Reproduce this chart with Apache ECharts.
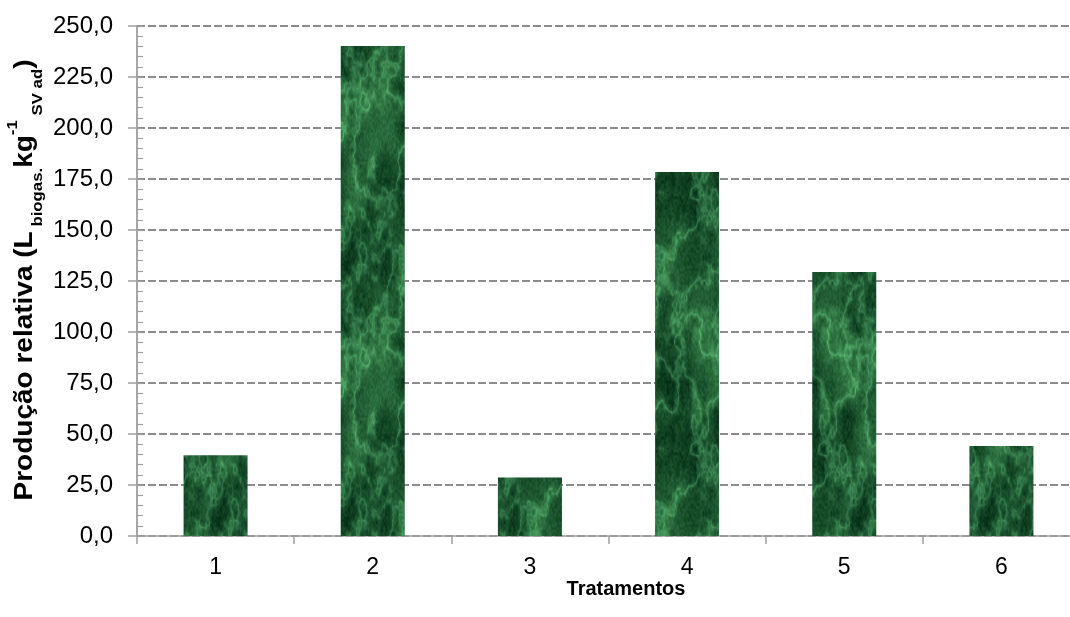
<!DOCTYPE html>
<html>
<head>
<meta charset="utf-8">
<title>Produção relativa por tratamento</title>
<script src="https://cdn.jsdelivr.net/npm/echarts@6/dist/echarts.min.js"></script>
<style>
  html, body { margin: 0; padding: 0; background: #ffffff; }
  #chart { width: 1070px; height: 617px; }
</style>
</head>
<body>
<div id="chart"></div>
<script>
// Treatments on the x axis and relative biogas production for each one
const categories = ['1', '2', '3', '4', '5', '6'];
const producao = [39.6, 240.2, 28.7, 178.4, 129.4, 44.1];

// Value axis range and steps
const yMin = 0;
const yMax = 250;
const yStep = 25;
const yMinorStep = 5;

const xTitle = 'Tratamentos';

// Green marble fill for the bars, built as a tileable noise texture
function buildMarbleTexture() {
  const W = 128, H = 256;
  const cv = document.createElement('canvas');
  cv.width = W; cv.height = H;
  const ctx = cv.getContext('2d');
  const img = ctx.createImageData(W, H);
  let s = 20240611;
  const rand = () => { s = (s * 1103515245 + 12345) & 0x7fffffff; return s / 0x7fffffff; };
  const lattice = (n) => { const g = []; for (let i = 0; i < n * n; i++) g.push(rand()); return { n, g }; };
  const sample = (L, u, v) => {
    const n = L.n, x = u * n, y = v * n;
    const x0 = Math.floor(x), y0 = Math.floor(y);
    const fx = x - x0, fy = y - y0;
    const sx = fx * fx * (3 - 2 * fx), sy = fy * fy * (3 - 2 * fy);
    const at = (a, b) => L.g[(((b % n) + n) % n) * n + (((a % n) + n) % n)];
    const a = at(x0, y0), b = at(x0 + 1, y0), c = at(x0, y0 + 1), d = at(x0 + 1, y0 + 1);
    return a + (b - a) * sx + (c - a) * sy + (a - b - c + d) * sx * sy;
  };
  const base = [lattice(4), lattice(8), lattice(16), lattice(32), lattice(64)];
  const vein = [lattice(6), lattice(12), lattice(24), lattice(48)];
  const speck = lattice(96);
  const fbm = (set, u, v) => {
    let sum = 0, amp = 0.5, tot = 0;
    for (const L of set) { sum += amp * sample(L, u, v); tot += amp; amp *= 0.55; }
    return sum / tot;
  };
  for (let y = 0; y < H; y++) {
    for (let x = 0; x < W; x++) {
      const u = x / W, v = y / H;
      let t = fbm(base, u, v);
      t = Math.min(1, Math.max(0, (t - 0.3) / 0.4));
      let r = 1 - Math.abs(2 * fbm(vein, u, v) - 1);
      r = Math.pow(r, 8);
      const grain = sample(speck, u, v) - 0.5;
      const R = 8 + 32 * t + 40 * r + 18 * grain;
      const G = 52 + 52 * t + 64 * r + 26 * grain;
      const B = 26 + 32 * t + 44 * r + 18 * grain;
      const k = (y * W + x) * 4;
      img.data[k] = R; img.data[k + 1] = G; img.data[k + 2] = B; img.data[k + 3] = 255;
    }
  }
  ctx.putImageData(img, 0, 0);
  return cv;
}

const marble = buildMarbleTexture();
const axisGray = '#a0a0a0';
const labelFont = 'Liberation Sans, Arial, sans-serif';
const fmt = (v) => v.toFixed(1).replace('.', ',');

const chart = echarts.init(document.getElementById('chart'), null, { renderer: 'canvas' });

chart.setOption({
  animation: false,
  backgroundColor: '#ffffff',
  // the plot runs slightly past the right edge of the page
  grid: { left: 137, width: 943, top: 26, bottom: 81, containLabel: false, outerBoundsMode: 'none' },
  xAxis: {
    type: 'category',
    data: categories,
    boundaryGap: true,
    axisLine: { show: true, lineStyle: { color: axisGray, width: 1.5 } },
    axisTick: { show: true, length: 8, lineStyle: { color: axisGray, width: 1.5 } },
    axisLabel: { margin: 20, fontFamily: labelFont, fontSize: 23, color: '#000000' },
    splitLine: { show: false }
  },
  yAxis: [
    {
      type: 'value',
      min: yMin, max: yMax, interval: yStep,
      axisLine: { show: true, lineStyle: { color: axisGray, width: 1.5 } },
      axisTick: { show: true, inside: false, length: 9, lineStyle: { color: axisGray, width: 1.5 } },
      axisLabel: {
        margin: 24,
        fontFamily: labelFont,
        fontSize: 24,
        color: '#000000',
        formatter: fmt
      },
      splitLine: { show: true, lineStyle: { color: '#8c8c8c', width: 2, type: [8, 3] } }
    },
    {
      type: 'value',
      position: 'left',
      min: yMin, max: yMax, interval: yMinorStep,
      axisLine: { show: true, lineStyle: { color: axisGray, width: 1.5 } },
      axisTick: { show: true, inside: true, length: 6, lineStyle: { color: axisGray, width: 1.2 } },
      axisLabel: { show: false },
      splitLine: { show: false }
    }
  ],
  series: [{
    type: 'bar',
    yAxisIndex: 0,
    data: producao,
    barWidth: 64,
    itemStyle: { color: { image: marble, repeat: 'repeat' } },
    z: 3
  }],
  graphic: [
    {
      type: 'text',
      x: 25,
      y: 280,
      rotation: Math.PI / 2,
      scaleX: 1.12,
      style: {
        x: 0, y: 0,
        align: 'center',
        verticalAlign: 'middle',
        text: '{m|Produção relativa (L}{s| biogas.}{m|kg}{p|-1}{s| SV ad}{m|)}',
        rich: {
          m: { fontFamily: labelFont, fontWeight: 'bold', fontSize: 25, lineHeight: 40, verticalAlign: 'middle', fill: '#000' },
          s: { fontFamily: labelFont, fontWeight: 'bold', fontSize: 15, lineHeight: 15, verticalAlign: 'bottom', fill: '#000' },
          p: { fontFamily: labelFont, fontWeight: 'bold', fontSize: 15, lineHeight: 30, verticalAlign: 'top', fill: '#000' }
        }
      }
    },
    {
      type: 'text',
      x: 626,
      y: 589,
      style: {
        text: xTitle,
        align: 'center',
        verticalAlign: 'middle',
        fontFamily: labelFont,
        fontWeight: 'bold',
        fontSize: 20,
        fill: '#000'
      }
    }
  ]
});
</script>
</body>
</html>
